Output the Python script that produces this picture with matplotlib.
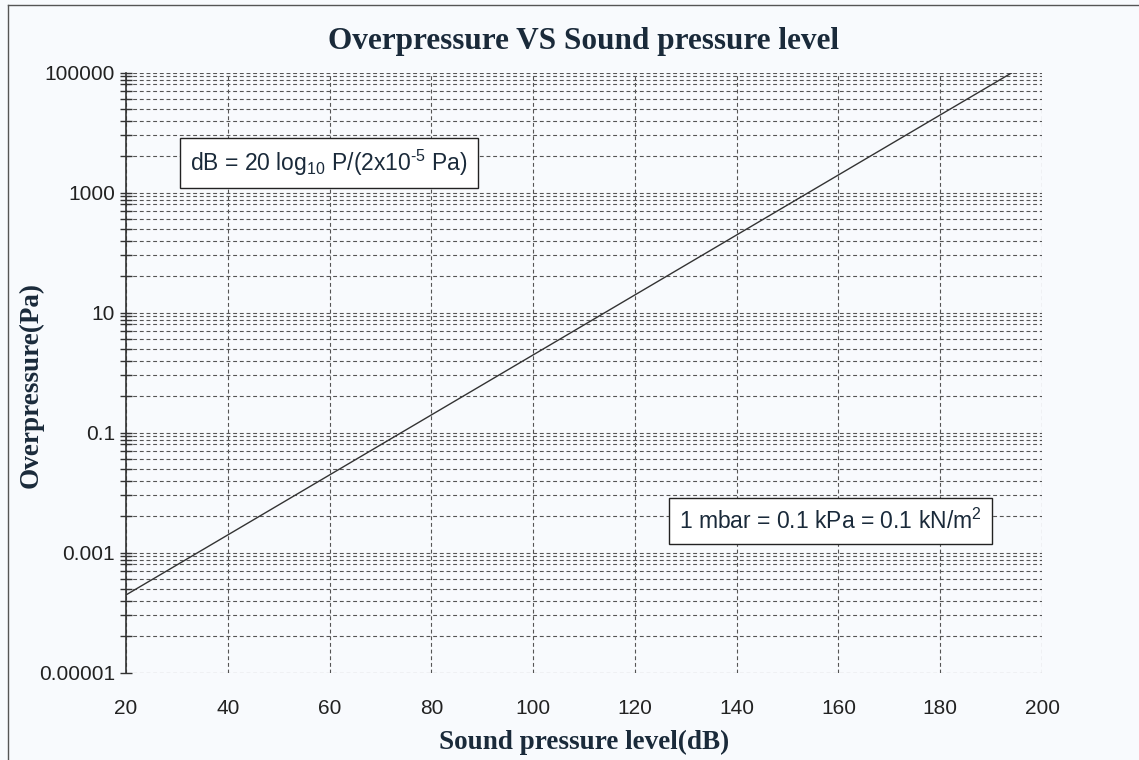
import matplotlib
matplotlib.use("Agg")
import matplotlib.pyplot as plt
from matplotlib.ticker import FixedLocator, NullFormatter, FixedFormatter
from matplotlib.lines import Line2D

# Data
sound_level_db = [20, 60, 100, 140, 180, 194]
overpressure_pa = [0.0002, 0.02, 2, 200, 20000, 100000]

x_ticks = [20, 40, 60, 80, 100, 120, 140, 160, 180, 200]
y_ticks = [1e-5, 1e-3, 1e-1, 1e1, 1e3, 1e5]
y_tick_labels = ["0.00001", "0.001", "0.1", "10", "1000", "100000"]
# minor gridlines below each labelled tick, as fractions of that tick
minor_fractions = [0.878, 0.774, 0.656, 0.508, 0.37, 0.252, 0.16, 0.091, 0.041]

title = "Overpressure VS Sound pressure level"
xlabel = "Sound pressure level(dB)"
ylabel = "Overpressure(Pa)"
note1 = r"dB = 20 log$_{10}$ P/(2x10$^{\text{-}5}$ Pa)"
note2 = r"1 mbar = 0.1 kPa = 0.1 kN/m$^{2}$"

bg = "#f8fafd"
serif = ["Liberation Serif", "DejaVu Serif"]
sans = ["Liberation Sans", "DejaVu Sans"]
plt.rcParams["mathtext.fontset"] = "custom"
plt.rcParams["mathtext.rm"] = "Liberation Sans"
plt.rcParams["mathtext.it"] = "Liberation Sans"

fig = plt.figure(figsize=(11.39, 7.6), dpi=100, facecolor=bg)
ax = fig.add_axes([126 / 1139, 1 - 673 / 760, (1042 - 126) / 1139, 600 / 760])
ax.set_facecolor(bg)

ax.plot(sound_level_db, overpressure_pa, color="#333333", lw=1.0, zorder=3)

ax.set_yscale("log")
ax.set_xlim(20, 200)
ax.set_ylim(1e-5, 1e5)

minor_vals = [t * f for t in y_ticks[1:] for f in minor_fractions]
ax.xaxis.set_major_locator(FixedLocator(x_ticks))
ax.yaxis.set_major_locator(FixedLocator(y_ticks))
ax.yaxis.set_major_formatter(FixedFormatter(y_tick_labels))
ax.yaxis.set_minor_locator(FixedLocator(minor_vals))
ax.yaxis.set_minor_formatter(NullFormatter())

grid_kw = dict(color="#555555", linestyle=(0, (3.5, 2.5)), linewidth=0.8)
ax.grid(True, which="both", axis="y", **grid_kw)
ax.grid(True, which="major", axis="x", **grid_kw)

for s in ["top", "right", "bottom"]:
    ax.spines[s].set_visible(False)
ax.spines["left"].set_color("#333333")
ax.spines["left"].set_linewidth(1.2)

ax.tick_params(axis="y", which="both", direction="inout", length=8, width=1.0,
               color="#333333", labelsize=15, pad=4)
ax.tick_params(axis="x", which="both", length=0, labelsize=15, pad=19)
for lab in ax.get_xticklabels() + ax.get_yticklabels():
    lab.set_fontfamily(sans)
    lab.set_color("#222222")

ax.set_title(title, fontfamily=serif, fontweight="bold", fontsize=22.5,
             color="#1a2a3a", pad=17)
ax.set_xlabel(xlabel, fontfamily=serif, fontweight="bold", fontsize=19.5,
              color="#1a2a3a", labelpad=8)
ax.set_ylabel(ylabel, fontfamily=serif, fontweight="bold", fontsize=19.5,
              color="#1a2a3a")
ax.yaxis.set_label_coords(-0.0895, 0.48)

box = dict(boxstyle="square,pad=0.45", facecolor="white", edgecolor="#222222", linewidth=1.0)
ax.text(0.2216, 0.85, note1, transform=ax.transAxes, ha="center", va="center",
        fontsize=16.5, fontfamily=sans, color="#1a2a3a", bbox=box, zorder=5)
ax.text(0.769, 0.253, note2, transform=ax.transAxes, ha="center", va="center",
        fontsize=16.5, fontfamily=sans, color="#1a2a3a", bbox=box, zorder=5)

# outer frame lines
fig.add_artist(Line2D([8 / 1139, 8 / 1139], [0, 1 - 5 / 760], transform=fig.transFigure,
                      color="#555555", lw=1.0))
fig.add_artist(Line2D([8 / 1139, 1], [1 - 5 / 760, 1 - 5 / 760], transform=fig.transFigure,
                      color="#555555", lw=1.0))

fig.savefig("out.png", dpi=100, facecolor=bg)
